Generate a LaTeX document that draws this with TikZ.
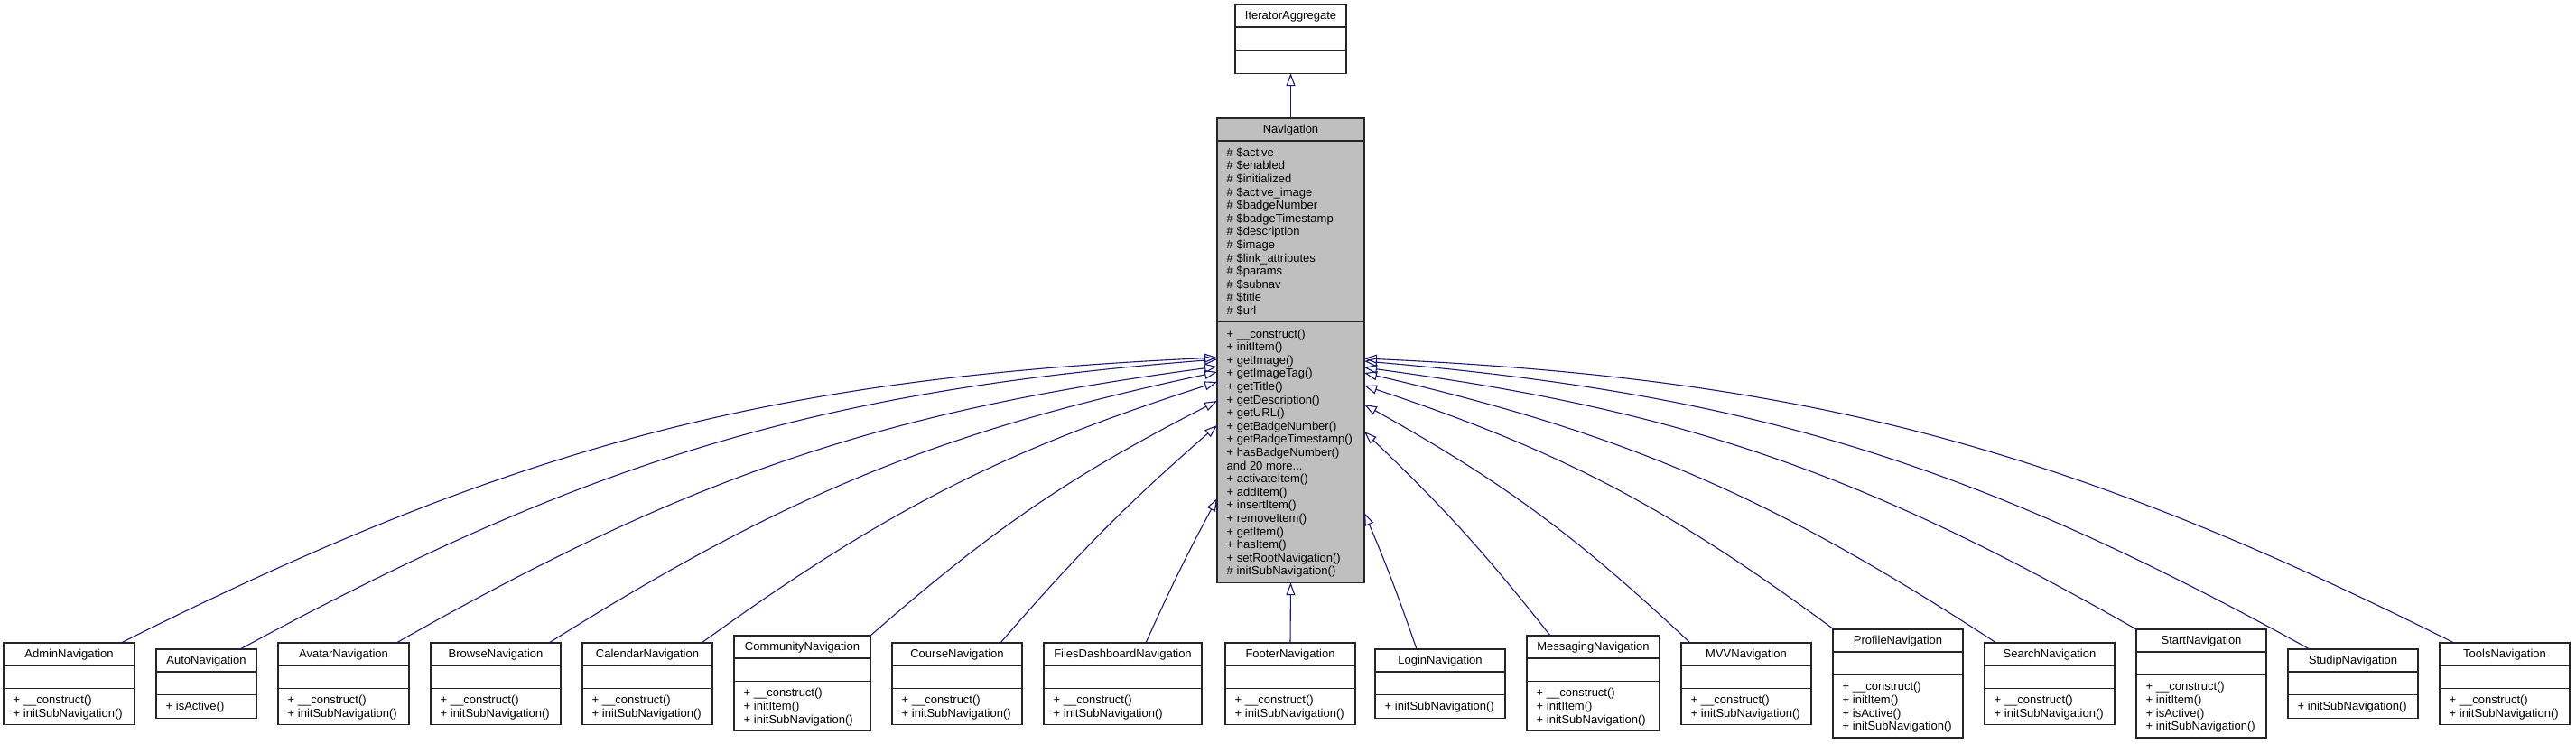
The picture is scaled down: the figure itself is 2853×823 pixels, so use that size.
\documentclass[tikz,border=0pt]{standalone}
\usepackage{fontspec}
\setmainfont{Liberation Sans}
\usetikzlibrary{arrows.meta}
\definecolor{edgeblue}{RGB}{25,25,112}
\definecolor{navgray}{RGB}{191,191,191}
\newcommand\classfill{white}
\tikzset{
  classbox/.style={draw=black!85, line width=1.3pt, anchor=north west, inner sep=0pt, outer sep=0pt},
  sepline/.style={draw=black!85, line width=1.3pt},
  titletext/.style={anchor=base, inner sep=0pt, font=\fontsize{13}{14.6}\selectfont},
  membertext/.style={anchor=north west, inner sep=0pt, align=left, font=\fontsize{13}{14.6}\selectfont},
  inh/.style={draw=edgeblue, line width=1.1pt, -{Triangle[open, length=14pt, width=10pt, line width=1.1pt]}},
}
\newcommand\umlclass[9]{%
  \pgfmathsetmacro\uA{max(#6,1)*14.6+11}%
  \pgfmathsetmacro\uM{max(#8,1)*14.6+11}%
  \pgfmathsetmacro\uW{#3-#2}%
  \pgfmathsetmacro\uH{25+\uA+\uM}%
  \pgfmathsetmacro\uyA{-(#4)-25}%
  \pgfmathsetmacro\uyM{\uyA-\uA}%
  \pgfmathsetmacro\uxm{(#2+#3)/2}%
  \node[classbox, fill=\classfill, minimum width=\uW pt, minimum height=\uH pt] (#1) at (#2,-#4) {};
  \draw[sepline] (#2,\uyA) -- (#3,\uyA);
  \draw[sepline] (#2,\uyM) -- (#3,\uyM);
  \node[titletext] (#1-title) at (\uxm,-#4-16.5) {#5};
  \node[membertext] (#1-attrs) at (#2+10.5,\uyA-7) {\rule{0pt}{10pt}#7};
  \node[membertext] (#1-ops) at (#2+10.5,\uyM-7) {\rule{0pt}{10pt}#9};
}
\begin{document}
\begin{tikzpicture}[x=1pt,y=1pt]
\useasboundingbox (0,0) rectangle (2853,-823);

\umlclass{iter}{1368}{1491}{5}{IteratorAggregate}{0}{}{0}{}
\renewcommand\classfill{navgray}
\umlclass{nav}{1348}{1511}{131}{Navigation}{13}{\# \$active\\\# \$enabled\\\# \$initialized\\\# \$active\_image\\\# \$badgeNumber\\\# \$badgeTimestamp\\\# \$description\\\# \$image\\\# \$link\_attributes\\\# \$params\\\# \$subnav\\\# \$title\\\# \$url}{19}{+ \_\_construct()\\+ initItem()\\+ getImage()\\+ getImageTag()\\+ getTitle()\\+ getDescription()\\+ getURL()\\+ getBadgeNumber()\\+ getBadgeTimestamp()\\+ hasBadgeNumber()\\and 20 more...\\+ activateItem()\\+ addItem()\\+ insertItem()\\+ removeItem()\\+ getItem()\\+ hasItem()\\+ setRootNavigation()\\\# initSubNavigation()}
\renewcommand\classfill{white}

\umlclass{admin}{4}{149}{712}{AdminNavigation}{0}{}{2}{+ \_\_construct()\\+ initSubNavigation()}
\umlclass{auto}{173}{284}{719}{AutoNavigation}{0}{}{1}{+ isActive()}
\umlclass{avatar}{308}{453}{712}{AvatarNavigation}{0}{}{2}{+ \_\_construct()\\+ initSubNavigation()}
\umlclass{browse}{477}{621}{712}{BrowseNavigation}{0}{}{2}{+ \_\_construct()\\+ initSubNavigation()}
\umlclass{calendar}{645}{789}{712}{CalendarNavigation}{0}{}{2}{+ \_\_construct()\\+ initSubNavigation()}
\umlclass{community}{813}{964}{704}{CommunityNavigation}{0}{}{3}{+ \_\_construct()\\+ initItem()\\+ initSubNavigation()}
\umlclass{course}{988}{1132}{712}{CourseNavigation}{0}{}{2}{+ \_\_construct()\\+ initSubNavigation()}
\umlclass{files}{1156}{1331}{712}{FilesDashboardNavigation}{0}{}{2}{+ \_\_construct()\\+ initSubNavigation()}
\umlclass{footer}{1357}{1501}{712}{FooterNavigation}{0}{}{2}{+ \_\_construct()\\+ initSubNavigation()}
\umlclass{login}{1523}{1667}{719}{LoginNavigation}{0}{}{1}{+ initSubNavigation()}
\umlclass{messaging}{1691}{1838}{704}{MessagingNavigation}{0}{}{3}{+ \_\_construct()\\+ initItem()\\+ initSubNavigation()}
\umlclass{mvv}{1862}{2006}{712}{MVVNavigation}{0}{}{2}{+ \_\_construct()\\+ initSubNavigation()}
\umlclass{profile}{2030}{2174}{697}{ProfileNavigation}{0}{}{4}{+ \_\_construct()\\+ initItem()\\+ isActive()\\+ initSubNavigation()}
\umlclass{search}{2198}{2342}{712}{SearchNavigation}{0}{}{2}{+ \_\_construct()\\+ initSubNavigation()}
\umlclass{start}{2366}{2510}{697}{StartNavigation}{0}{}{4}{+ \_\_construct()\\+ initItem()\\+ isActive()\\+ initSubNavigation()}
\umlclass{studip}{2534}{2678}{719}{StudipNavigation}{0}{}{1}{+ initSubNavigation()}
\umlclass{tools}{2702}{2846}{712}{ToolsNavigation}{0}{}{2}{+ \_\_construct()\\+ initSubNavigation()}

% inheritance
\draw[inh] (nav.north) -- (iter.south);
\draw[inh] (footer.north) -- (nav.south);
\draw[inh] ([xshift=130pt]admin.north west) .. controls +(26.6:491pt) and +(182.6:491pt) .. ([yshift=-265pt]nav.north west);
\draw[inh] ([xshift=93pt]auto.north west) .. controls +(28.5:442pt) and +(184.5:442pt) .. ([yshift=-267pt]nav.north west);
\draw[inh] ([xshift=131pt]avatar.north west) .. controls +(29.6:375pt) and +(187.6:375pt) .. ([yshift=-275pt]nav.north west);
\draw[inh] ([xshift=131pt]browse.north west) .. controls +(32.1:313pt) and +(192.1:313pt) .. ([yshift=-281pt]nav.north west);
\draw[inh] ([xshift=132pt]calendar.north west) .. controls +(35.8:251pt) and +(197.8:251pt) .. ([yshift=-292pt]nav.north west);
\draw[inh] (community.north east) .. controls +(41.1:182pt) and +(207.1:182pt) .. ([yshift=-313pt]nav.north west);
\draw[inh] ([xshift=120pt]course.north west) .. controls +(49.1:133pt) and +(221.1:133pt) .. ([yshift=-340pt]nav.north west);
\draw[inh] ([xshift=113pt]files.north west) .. controls +(65.7:70pt) and +(241.7:70pt) .. ([yshift=-421pt]nav.north west);
\draw[inh] ([xshift=46pt]login.north west) .. controls +(109.1:63pt) and +(-66.9:63pt) .. ([yshift=-437pt]nav.north east);
\draw[inh] ([xshift=26pt]messaging.north west) .. controls +(128.3:120pt) and +(-43.7:120pt) .. ([yshift=-347pt]nav.north east);
\draw[inh] ([xshift=10pt]mvv.north west) .. controls +(136.8:175pt) and +(-29.2:175pt) .. ([yshift=-317pt]nav.north east);
\draw[inh] ([xshift=1pt]profile.north west) .. controls +(143.6:229pt) and +(-18.4:229pt) .. ([yshift=-296pt]nav.north east);
\draw[inh] ([xshift=13pt]search.north west) .. controls +(146.9:298pt) and +(-13.1:298pt) .. ([yshift=-282pt]nav.north east);
\draw[inh] (start.north west) .. controls +(150.3:353pt) and +(-7.7:353pt) .. ([yshift=-276pt]nav.north east);
\draw[inh] ([xshift=24pt]studip.north west) .. controls +(151.1:428pt) and +(-4.9:428pt) .. ([yshift=-269pt]nav.north east);
\draw[inh] ([xshift=16pt]tools.north west) .. controls +(153.4:488pt) and +(-2.6:488pt) .. ([yshift=-266pt]nav.north east);
\end{tikzpicture}
\end{document}
